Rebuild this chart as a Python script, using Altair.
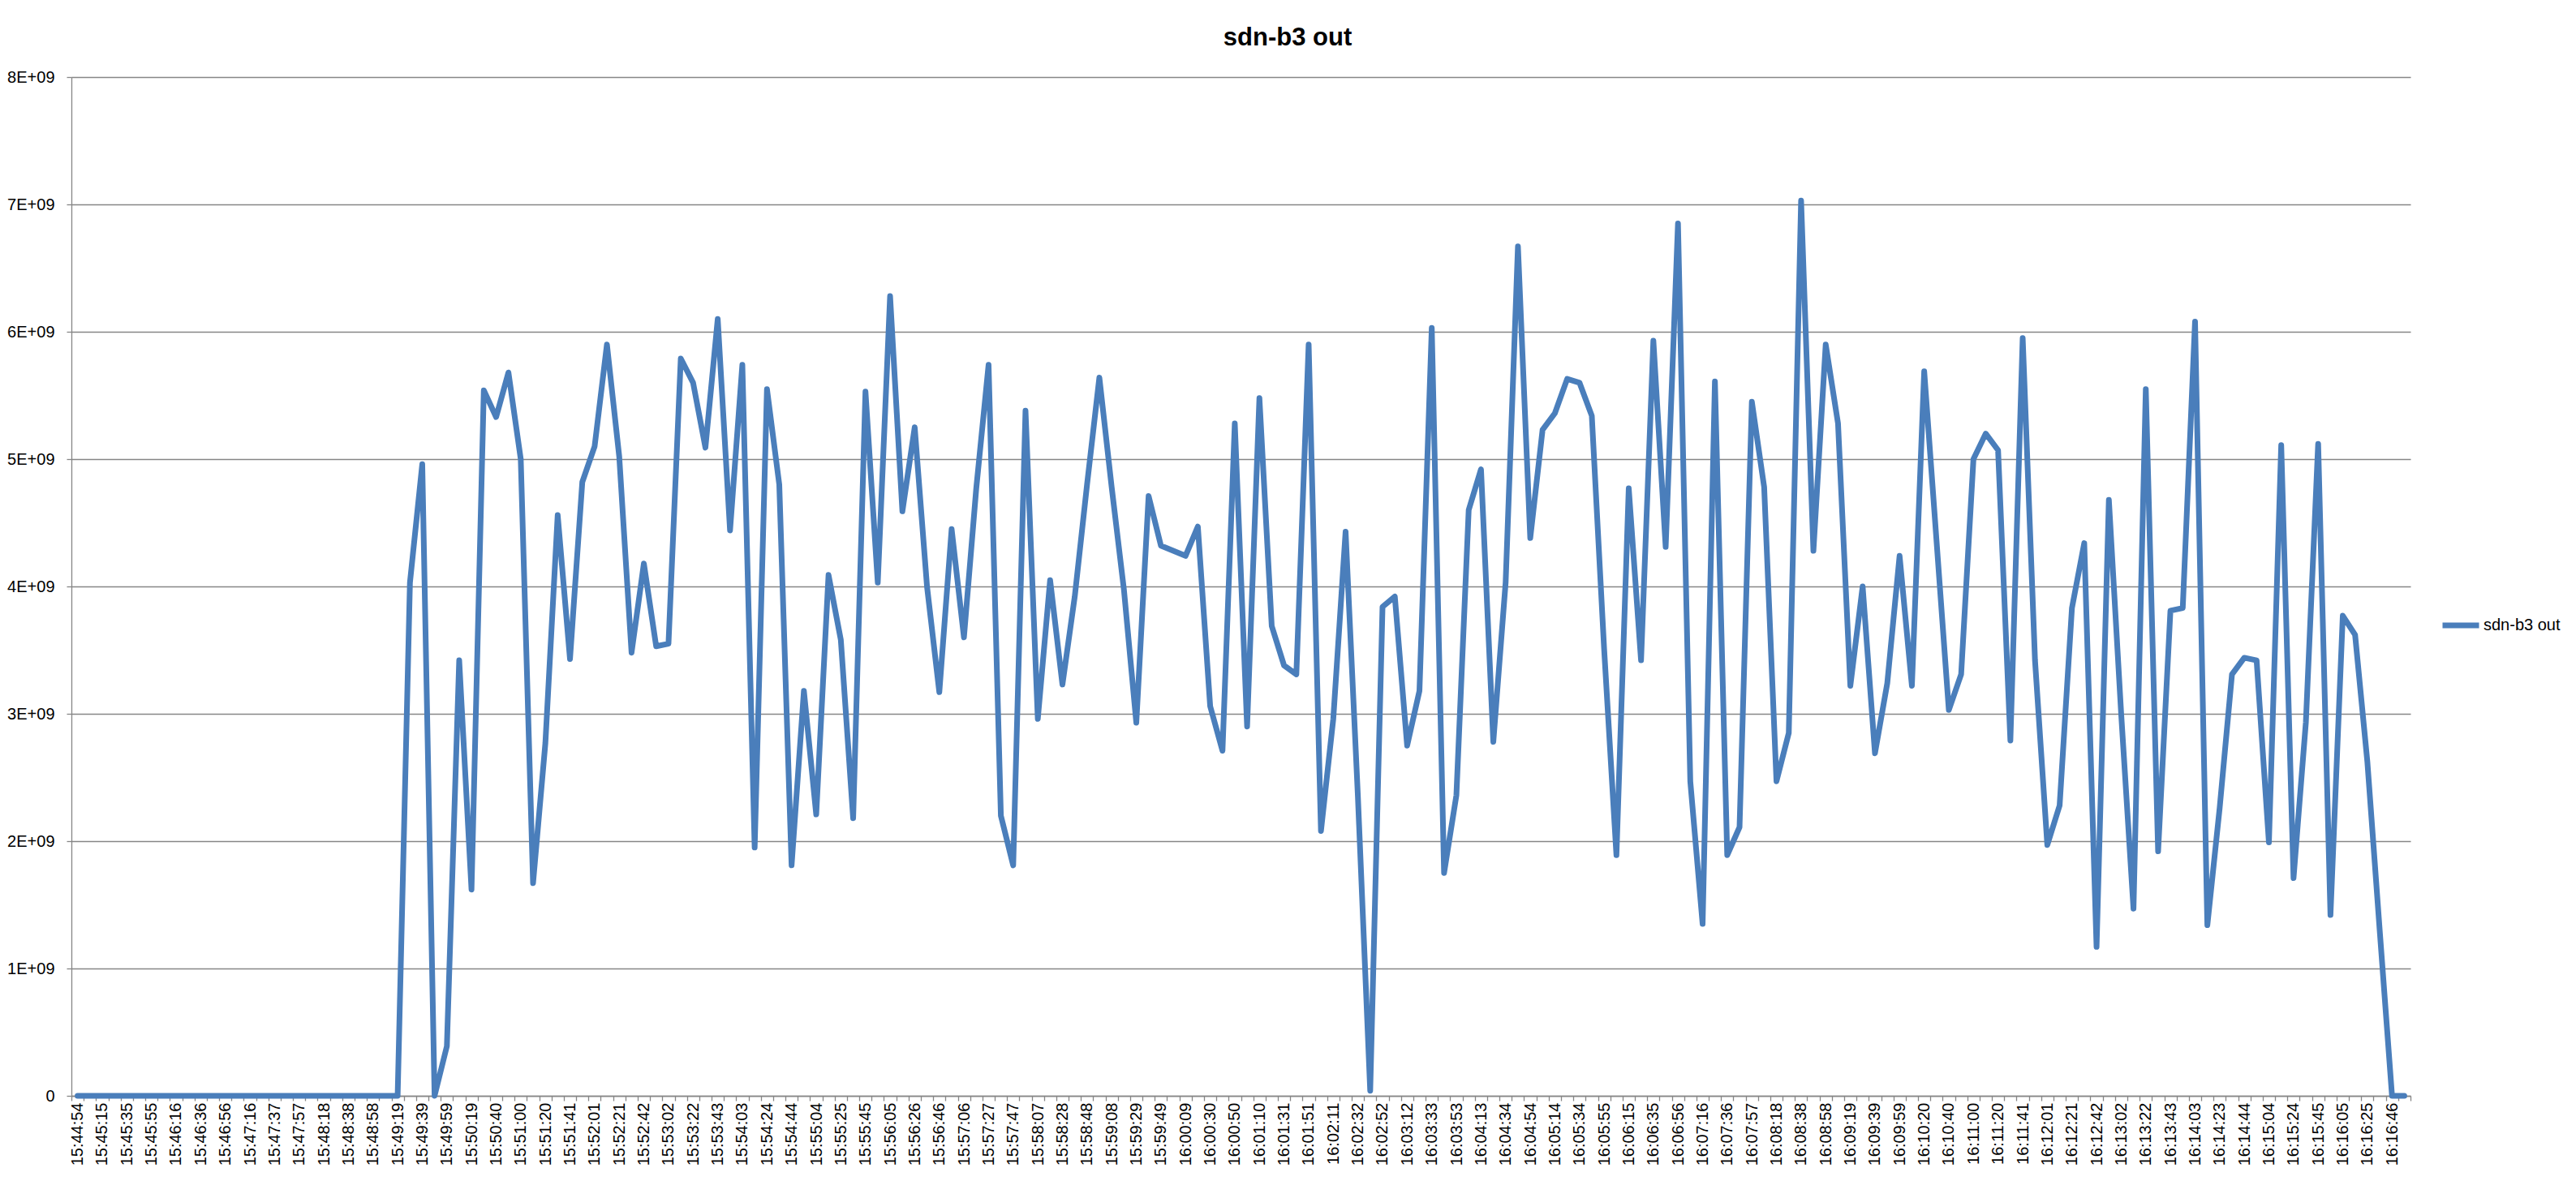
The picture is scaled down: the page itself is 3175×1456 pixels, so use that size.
import altair as alt
import pandas as pd

TITLE = "sdn-b3 out"
SERIES = "sdn-b3 out"

# visible category labels (every second category is labelled)
tick_labels = [
    "15:44:54", "15:45:15", "15:45:35", "15:45:55", "15:46:16", "15:46:36", "15:46:56", "15:47:16",
    "15:47:37", "15:47:57", "15:48:18", "15:48:38", "15:48:58", "15:49:19", "15:49:39", "15:49:59",
    "15:50:19", "15:50:40", "15:51:00", "15:51:20", "15:51:41", "15:52:01", "15:52:21", "15:52:42",
    "15:53:02", "15:53:22", "15:53:43", "15:54:03", "15:54:24", "15:54:44", "15:55:04", "15:55:25",
    "15:55:45", "15:56:05", "15:56:26", "15:56:46", "15:57:06", "15:57:27", "15:57:47", "15:58:07",
    "15:58:28", "15:58:48", "15:59:08", "15:59:29", "15:59:49", "16:00:09", "16:00:30", "16:00:50",
    "16:01:10", "16:01:31", "16:01:51", "16:02:11", "16:02:32", "16:02:52", "16:03:12", "16:03:33",
    "16:03:53", "16:04:13", "16:04:34", "16:04:54", "16:05:14", "16:05:34", "16:05:55", "16:06:15",
    "16:06:35", "16:06:56", "16:07:16", "16:07:36", "16:07:57", "16:08:18", "16:08:38", "16:08:58",
    "16:09:19", "16:09:39", "16:09:59", "16:10:20", "16:10:40", "16:11:00", "16:11:20", "16:11:41",
    "16:12:01", "16:12:21", "16:12:42", "16:13:02", "16:13:22", "16:13:43", "16:14:03", "16:14:23",
    "16:14:44", "16:15:04", "16:15:24", "16:15:45", "16:16:05", "16:16:25", "16:16:46",
]

# series values in units of 1E+09
values_e9 = [
    0, 0, 0, 0, 0, 0, 0, 0, 0, 0,
    0, 0, 0, 0, 0, 0, 0, 0, 0, 0,
    0, 0, 0, 0, 0, 0, 0, 4.03, 4.96, 0,
    0.39, 3.42, 1.62, 5.54, 5.33, 5.68, 5.00, 1.67, 2.77, 4.56,
    3.43, 4.82, 5.10, 5.90, 5.02, 3.48, 4.18, 3.53, 3.55, 5.79,
    5.60, 5.09, 6.10, 4.44, 5.74, 1.95, 5.55, 4.80, 1.81, 3.18,
    2.21, 4.09, 3.58, 2.18, 5.53, 4.03, 6.28, 4.59, 5.25, 4.00,
    3.17, 4.45, 3.60, 4.77, 5.74, 2.20, 1.81, 5.38, 2.96, 4.05,
    3.23, 3.92, 4.80, 5.64, 4.78, 3.97, 2.93, 4.71, 4.32, 4.28,
    4.24, 4.47, 3.06, 2.71, 5.28, 2.90, 5.48, 3.69, 3.38, 3.31,
    5.90, 2.08, 2.96, 4.43, 2.35, 0.04, 3.84, 3.92, 2.75, 3.18,
    6.03, 1.75, 2.36, 4.60, 4.92, 2.78, 4.03, 6.67, 4.38, 5.23,
    5.36, 5.63, 5.60, 5.34, 3.51, 1.89, 4.77, 3.42, 5.93, 4.31,
    6.85, 2.47, 1.35, 5.61, 1.89, 2.11, 5.45, 4.78, 2.47, 2.85,
    7.03, 4.28, 5.90, 5.28, 3.22, 4.00, 2.69, 3.24, 4.24, 3.22,
    5.69, 4.36, 3.03, 3.31, 5.00, 5.20, 5.07, 2.79, 5.95, 3.42,
    1.97, 2.28, 3.83, 4.34, 1.17, 4.68, 3.00, 1.47, 5.55, 1.92,
    3.81, 3.83, 6.08, 1.34, 2.26, 3.31, 3.44, 3.42, 1.99, 5.11,
    1.71, 2.93, 5.12, 1.42, 3.77, 3.62, 2.62, 1.30, 0, 0,
]

y_ticks_e9 = [0, 1, 2, 3, 4, 5, 6, 7, 8]

n = len(values_e9)
df = pd.DataFrame({
    "i": list(range(n)),
    "v": [v * 1e9 for v in values_e9],
    "s": [SERIES] * n,
})

all_labels = [tick_labels[k // 2] if (k % 2 == 0 and k // 2 < len(tick_labels)) else "" for k in range(n)]
x_label_expr = "[" + ",".join("'%s'" % s for s in all_labels) + "][datum.value]"
y_label_expr = "datum.value == 0 ? '0' : format(datum.value / 1e9, 'd') + 'E+09'"

FONT = "Liberation Sans"
GRID = "#868686"
LINE = "#4a7ebb"

chart = alt.Chart(df).mark_line(
    strokeWidth=7, strokeJoin="round", strokeCap="round"
).encode(
    x=alt.X(
        "i:O",
        bandPosition=0.5,
        scale=alt.Scale(type="band", paddingInner=0, paddingOuter=0),
        axis=alt.Axis(
            title=None, labelExpr=x_label_expr, labelAngle=-90, labelOverlap=False,
            tickBand="extent", grid=False, domainColor=GRID, tickColor=GRID,
            tickSize=6, labelPadding=2, labelFontSize=20, labelFont=FONT,
            labelColor="black", domainWidth=1.3, tickWidth=1.3,
        ),
    ),
    y=alt.Y(
        "v:Q",
        scale=alt.Scale(domain=[0, 8e9], nice=False),
        axis=alt.Axis(
            title=None, values=[t * 1e9 for t in y_ticks_e9], labelExpr=y_label_expr,
            grid=True, gridColor=GRID, gridWidth=1.3, domainColor=GRID, domainWidth=1.3,
            tickColor=GRID, tickWidth=1.3, tickSize=6, labelPadding=15,
            labelFontSize=20, labelFont=FONT, labelColor="black",
        ),
    ),
    color=alt.Color(
        "s:N",
        scale=alt.Scale(range=[LINE]),
        legend=alt.Legend(
            title=None, orient="none", legendX=2919, legendY=650,
            symbolType="stroke", symbolStrokeWidth=7, symbolSize=2025,
            labelFontSize=20, labelFont=FONT, labelColor="black", labelOffset=2,
            padding=0,
        ),
    ),
).properties(
    width=2883,
    height=1256,
    title=alt.TitleParams(
        TITLE, fontSize=31, font=FONT, fontWeight="bold", color="black",
        anchor="middle", frame="group", dx=57.5, offset=36, dy=38, baseline="alphabetic",
    ),
    autosize=alt.AutoSizeParams(type="none"),
    padding={"left": 80, "top": 87, "right": 190, "bottom": 90},
).configure_view(stroke=None)

chart.save("out.html", embed_options={"renderer": "svg", "actions": False})
